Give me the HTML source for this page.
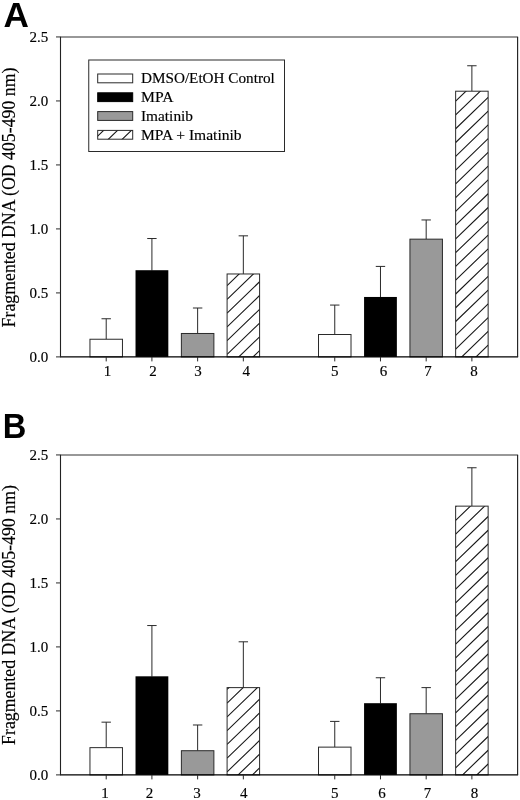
<!DOCTYPE html>
<html lang="en">
<head>
<meta charset="utf-8">
<title>Fragmented DNA chart</title>
<style>
html,body{margin:0;padding:0;background:#fff;}
body{width:520px;height:800px;overflow:hidden;}
svg{display:block;will-change:transform;}
text{font-family:"Liberation Serif","DejaVu Serif",serif;fill:#000;stroke:#000;stroke-width:0.16px;}
.tk{font-size:15px;}
.yl{font-size:17.8px;}
.lg{font-size:15.35px;}
.pl{font-family:"Liberation Sans","DejaVu Sans",sans-serif;font-weight:bold;font-size:35.2px;stroke:none;}
</style>
</head>
<body>
<svg width="520" height="800" viewBox="0 0 520 800">
<rect x="0" y="0" width="520" height="800" fill="#fff"/>
<line x1="106.21" y1="318.76" x2="106.21" y2="339.24" stroke="#2a2a2a" stroke-width="1"/>
<line x1="101.51" y1="318.76" x2="110.91" y2="318.76" stroke="#2a2a2a" stroke-width="1"/>
<rect x="89.96" y="339.24" width="32.5" height="17.66" fill="#fff" stroke="#2a2a2a" stroke-width="1"/>
<line x1="151.92" y1="238.52" x2="151.92" y2="270.51" stroke="#2a2a2a" stroke-width="1"/>
<line x1="147.22" y1="238.52" x2="156.62" y2="238.52" stroke="#2a2a2a" stroke-width="1"/>
<rect x="135.52" y="270.21" width="32.8" height="86.69" fill="#000"/>
<line x1="197.63" y1="308.01" x2="197.63" y2="333.48" stroke="#2a2a2a" stroke-width="1"/>
<line x1="192.93" y1="308.01" x2="202.33" y2="308.01" stroke="#2a2a2a" stroke-width="1"/>
<rect x="181.38" y="333.48" width="32.5" height="23.42" fill="#999999" stroke="#2a2a2a" stroke-width="1"/>
<line x1="243.34" y1="235.83" x2="243.34" y2="273.97" stroke="#2a2a2a" stroke-width="1"/>
<line x1="238.64" y1="235.83" x2="248.04" y2="235.83" stroke="#2a2a2a" stroke-width="1"/>
<rect x="227.09" y="273.97" width="32.5" height="82.93" fill="#fff" stroke="#2a2a2a" stroke-width="1"/>
<clipPath id="cA4"><rect x="227.09" y="273.97" width="32.5" height="82.93"/></clipPath>
<path d="M227.09 244.29L259.59 212.90M227.09 258.06L259.59 226.66M227.09 271.83L259.59 240.44M227.09 285.60L259.59 254.21M227.09 299.37L259.59 267.98M227.09 313.14L259.59 281.75M227.09 326.91L259.59 295.52M227.09 340.68L259.59 309.29M227.09 354.45L259.59 323.06M227.09 368.22L259.59 336.83M227.09 381.99L259.59 350.60" stroke="#1a1a1a" stroke-width="1.12" fill="none" clip-path="url(#cA4)"/>
<line x1="334.76" y1="305.07" x2="334.76" y2="334.50" stroke="#2a2a2a" stroke-width="1"/>
<line x1="330.06" y1="305.07" x2="339.46" y2="305.07" stroke="#2a2a2a" stroke-width="1"/>
<rect x="318.51" y="334.50" width="32.5" height="22.40" fill="#fff" stroke="#2a2a2a" stroke-width="1"/>
<line x1="380.47" y1="266.42" x2="380.47" y2="297.26" stroke="#2a2a2a" stroke-width="1"/>
<line x1="375.77" y1="266.42" x2="385.17" y2="266.42" stroke="#2a2a2a" stroke-width="1"/>
<rect x="364.07" y="296.96" width="32.8" height="59.94" fill="#000"/>
<line x1="426.18" y1="219.96" x2="426.18" y2="239.16" stroke="#2a2a2a" stroke-width="1"/>
<line x1="421.48" y1="219.96" x2="430.88" y2="219.96" stroke="#2a2a2a" stroke-width="1"/>
<rect x="409.93" y="239.16" width="32.5" height="117.74" fill="#999999" stroke="#2a2a2a" stroke-width="1"/>
<line x1="471.89" y1="65.75" x2="471.89" y2="91.21" stroke="#2a2a2a" stroke-width="1"/>
<line x1="467.19" y1="65.75" x2="476.59" y2="65.75" stroke="#2a2a2a" stroke-width="1"/>
<rect x="455.64" y="91.21" width="32.5" height="265.69" fill="#fff" stroke="#2a2a2a" stroke-width="1"/>
<clipPath id="cA9"><rect x="455.64" y="91.21" width="32.5" height="265.69"/></clipPath>
<path d="M455.64 59.89L488.14 28.50M455.64 73.66L488.14 42.27M455.64 87.43L488.14 56.04M455.64 101.20L488.14 69.81M455.64 114.97L488.14 83.58M455.64 128.74L488.14 97.35M455.64 142.51L488.14 111.11M455.64 156.28L488.14 124.89M455.64 170.05L488.14 138.66M455.64 183.82L488.14 152.42M455.64 197.59L488.14 166.19M455.64 211.36L488.14 179.97M455.64 225.13L488.14 193.73M455.64 238.90L488.14 207.50M455.64 252.67L488.14 221.28M455.64 266.44L488.14 235.04M455.64 280.21L488.14 248.81M455.64 293.98L488.14 262.59M455.64 307.75L488.14 276.36M455.64 321.52L488.14 290.12M455.64 335.29L488.14 303.90M455.64 349.06L488.14 317.67M455.64 362.83L488.14 331.44M455.64 376.60L488.14 345.20M455.64 390.37L488.14 358.98" stroke="#1a1a1a" stroke-width="1.12" fill="none" clip-path="url(#cA9)"/>
<line x1="60.0" y1="36.95" x2="518.1" y2="36.95" stroke="#333" stroke-width="1.05"/>
<line x1="60.0" y1="356.9" x2="518.1" y2="356.9" stroke="#000" stroke-width="1.4"/>
<line x1="60.5" y1="36.95" x2="60.5" y2="356.9" stroke="#222" stroke-width="1.1"/>
<line x1="517.6" y1="36.95" x2="517.6" y2="356.9" stroke="#222" stroke-width="1.15"/>
<line x1="56.0" y1="356.90" x2="60.5" y2="356.90" stroke="#2a2a2a" stroke-width="1"/>
<text x="48.3" y="362.10" text-anchor="end" class="tk">0.0</text>
<line x1="56.0" y1="292.91" x2="60.5" y2="292.91" stroke="#2a2a2a" stroke-width="1"/>
<text x="48.3" y="298.11" text-anchor="end" class="tk">0.5</text>
<line x1="56.0" y1="228.92" x2="60.5" y2="228.92" stroke="#2a2a2a" stroke-width="1"/>
<text x="48.3" y="234.12" text-anchor="end" class="tk">1.0</text>
<line x1="56.0" y1="164.93" x2="60.5" y2="164.93" stroke="#2a2a2a" stroke-width="1"/>
<text x="48.3" y="170.13" text-anchor="end" class="tk">1.5</text>
<line x1="56.0" y1="100.94" x2="60.5" y2="100.94" stroke="#2a2a2a" stroke-width="1"/>
<text x="48.3" y="106.14" text-anchor="end" class="tk">2.0</text>
<line x1="56.0" y1="36.95" x2="60.5" y2="36.95" stroke="#2a2a2a" stroke-width="1"/>
<text x="48.3" y="42.15" text-anchor="end" class="tk">2.5</text>
<line x1="106.21" y1="356.9" x2="106.21" y2="361.4" stroke="#2a2a2a" stroke-width="1"/>
<text x="107.50" y="376.20" text-anchor="middle" class="tk">1</text>
<line x1="151.92" y1="356.9" x2="151.92" y2="361.4" stroke="#2a2a2a" stroke-width="1"/>
<text x="152.90" y="376.20" text-anchor="middle" class="tk">2</text>
<line x1="197.63" y1="356.9" x2="197.63" y2="361.4" stroke="#2a2a2a" stroke-width="1"/>
<text x="197.90" y="376.20" text-anchor="middle" class="tk">3</text>
<line x1="243.34" y1="356.9" x2="243.34" y2="361.4" stroke="#2a2a2a" stroke-width="1"/>
<text x="246.25" y="376.20" text-anchor="middle" class="tk">4</text>
<line x1="334.76" y1="356.9" x2="334.76" y2="361.4" stroke="#2a2a2a" stroke-width="1"/>
<text x="334.75" y="376.20" text-anchor="middle" class="tk">5</text>
<line x1="380.47" y1="356.9" x2="380.47" y2="361.4" stroke="#2a2a2a" stroke-width="1"/>
<text x="383.50" y="376.20" text-anchor="middle" class="tk">6</text>
<line x1="426.18" y1="356.9" x2="426.18" y2="361.4" stroke="#2a2a2a" stroke-width="1"/>
<text x="428.10" y="376.20" text-anchor="middle" class="tk">7</text>
<line x1="471.89" y1="356.9" x2="471.89" y2="361.4" stroke="#2a2a2a" stroke-width="1"/>
<text x="474.00" y="376.20" text-anchor="middle" class="tk">8</text>
<text transform="translate(15.2 197.5) rotate(-90)" text-anchor="middle" class="yl">Fragmented DNA (OD 405-490 nm)</text>
<text transform="translate(3.4 26.8) scale(1 1)" class="pl">A</text>
<line x1="106.21" y1="722.17" x2="106.21" y2="747.64" stroke="#2a2a2a" stroke-width="1"/>
<line x1="101.51" y1="722.17" x2="110.91" y2="722.17" stroke="#2a2a2a" stroke-width="1"/>
<rect x="89.96" y="747.64" width="32.5" height="27.26" fill="#fff" stroke="#2a2a2a" stroke-width="1"/>
<line x1="151.92" y1="625.55" x2="151.92" y2="676.61" stroke="#2a2a2a" stroke-width="1"/>
<line x1="147.22" y1="625.55" x2="156.62" y2="625.55" stroke="#2a2a2a" stroke-width="1"/>
<rect x="135.52" y="676.31" width="32.8" height="98.59" fill="#000"/>
<line x1="197.63" y1="724.99" x2="197.63" y2="750.71" stroke="#2a2a2a" stroke-width="1"/>
<line x1="192.93" y1="724.99" x2="202.33" y2="724.99" stroke="#2a2a2a" stroke-width="1"/>
<rect x="181.38" y="750.71" width="32.5" height="24.19" fill="#999999" stroke="#2a2a2a" stroke-width="1"/>
<line x1="243.34" y1="641.80" x2="243.34" y2="687.62" stroke="#2a2a2a" stroke-width="1"/>
<line x1="238.64" y1="641.80" x2="248.04" y2="641.80" stroke="#2a2a2a" stroke-width="1"/>
<rect x="227.09" y="687.62" width="32.5" height="87.28" fill="#fff" stroke="#2a2a2a" stroke-width="1"/>
<clipPath id="cB4"><rect x="227.09" y="687.62" width="32.5" height="87.28"/></clipPath>
<path d="M227.09 661.85L259.59 630.46M227.09 675.60L259.59 644.21M227.09 689.35L259.59 657.96M227.09 703.10L259.59 671.71M227.09 716.85L259.59 685.46M227.09 730.60L259.59 699.21M227.09 744.35L259.59 712.96M227.09 758.10L259.59 726.71M227.09 771.85L259.59 740.46M227.09 785.60L259.59 754.21M227.09 799.35L259.59 767.96" stroke="#1a1a1a" stroke-width="1.12" fill="none" clip-path="url(#cB4)"/>
<line x1="334.76" y1="721.40" x2="334.76" y2="747.13" stroke="#2a2a2a" stroke-width="1"/>
<line x1="330.06" y1="721.40" x2="339.46" y2="721.40" stroke="#2a2a2a" stroke-width="1"/>
<rect x="318.51" y="747.13" width="32.5" height="27.77" fill="#fff" stroke="#2a2a2a" stroke-width="1"/>
<line x1="380.47" y1="677.76" x2="380.47" y2="703.49" stroke="#2a2a2a" stroke-width="1"/>
<line x1="375.77" y1="677.76" x2="385.17" y2="677.76" stroke="#2a2a2a" stroke-width="1"/>
<rect x="364.07" y="703.19" width="32.8" height="71.71" fill="#000"/>
<line x1="426.18" y1="687.62" x2="426.18" y2="713.73" stroke="#2a2a2a" stroke-width="1"/>
<line x1="421.48" y1="687.62" x2="430.88" y2="687.62" stroke="#2a2a2a" stroke-width="1"/>
<rect x="409.93" y="713.73" width="32.5" height="61.17" fill="#999999" stroke="#2a2a2a" stroke-width="1"/>
<line x1="471.89" y1="467.75" x2="471.89" y2="506.14" stroke="#2a2a2a" stroke-width="1"/>
<line x1="467.19" y1="467.75" x2="476.59" y2="467.75" stroke="#2a2a2a" stroke-width="1"/>
<rect x="455.64" y="506.14" width="32.5" height="268.76" fill="#fff" stroke="#2a2a2a" stroke-width="1"/>
<clipPath id="cB9"><rect x="455.64" y="506.14" width="32.5" height="268.76"/></clipPath>
<path d="M455.64 479.15L488.14 447.75M455.64 492.90L488.14 461.50M455.64 506.65L488.14 475.25M455.64 520.40L488.14 489.00M455.64 534.15L488.14 502.75M455.64 547.90L488.14 516.50M455.64 561.65L488.14 530.25M455.64 575.40L488.14 544.00M455.64 589.15L488.14 557.75M455.64 602.90L488.14 571.50M455.64 616.65L488.14 585.25M455.64 630.40L488.14 599.00M455.64 644.15L488.14 612.75M455.64 657.90L488.14 626.50M455.64 671.65L488.14 640.25M455.64 685.40L488.14 654.00M455.64 699.15L488.14 667.75M455.64 712.90L488.14 681.50M455.64 726.65L488.14 695.25M455.64 740.40L488.14 709.00M455.64 754.15L488.14 722.75M455.64 767.90L488.14 736.50M455.64 781.65L488.14 750.25M455.64 795.40L488.14 764.00M455.64 809.15L488.14 777.75" stroke="#1a1a1a" stroke-width="1.12" fill="none" clip-path="url(#cB9)"/>
<line x1="60.0" y1="454.95" x2="518.1" y2="454.95" stroke="#333" stroke-width="1.05"/>
<line x1="60.0" y1="774.9" x2="518.1" y2="774.9" stroke="#000" stroke-width="1.4"/>
<line x1="60.5" y1="454.95" x2="60.5" y2="774.9" stroke="#222" stroke-width="1.1"/>
<line x1="517.6" y1="454.95" x2="517.6" y2="774.9" stroke="#222" stroke-width="1.15"/>
<line x1="56.0" y1="774.90" x2="60.5" y2="774.90" stroke="#2a2a2a" stroke-width="1"/>
<text x="48.3" y="780.10" text-anchor="end" class="tk">0.0</text>
<line x1="56.0" y1="710.91" x2="60.5" y2="710.91" stroke="#2a2a2a" stroke-width="1"/>
<text x="48.3" y="716.11" text-anchor="end" class="tk">0.5</text>
<line x1="56.0" y1="646.92" x2="60.5" y2="646.92" stroke="#2a2a2a" stroke-width="1"/>
<text x="48.3" y="652.12" text-anchor="end" class="tk">1.0</text>
<line x1="56.0" y1="582.93" x2="60.5" y2="582.93" stroke="#2a2a2a" stroke-width="1"/>
<text x="48.3" y="588.13" text-anchor="end" class="tk">1.5</text>
<line x1="56.0" y1="518.94" x2="60.5" y2="518.94" stroke="#2a2a2a" stroke-width="1"/>
<text x="48.3" y="524.14" text-anchor="end" class="tk">2.0</text>
<line x1="56.0" y1="454.95" x2="60.5" y2="454.95" stroke="#2a2a2a" stroke-width="1"/>
<text x="48.3" y="460.15" text-anchor="end" class="tk">2.5</text>
<line x1="106.21" y1="774.9" x2="106.21" y2="779.4" stroke="#2a2a2a" stroke-width="1"/>
<text x="105.00" y="797.80" text-anchor="middle" class="tk">1</text>
<line x1="151.92" y1="774.9" x2="151.92" y2="779.4" stroke="#2a2a2a" stroke-width="1"/>
<text x="149.40" y="797.80" text-anchor="middle" class="tk">2</text>
<line x1="197.63" y1="774.9" x2="197.63" y2="779.4" stroke="#2a2a2a" stroke-width="1"/>
<text x="197.10" y="797.80" text-anchor="middle" class="tk">3</text>
<line x1="243.34" y1="774.9" x2="243.34" y2="779.4" stroke="#2a2a2a" stroke-width="1"/>
<text x="243.80" y="797.80" text-anchor="middle" class="tk">4</text>
<line x1="334.76" y1="774.9" x2="334.76" y2="779.4" stroke="#2a2a2a" stroke-width="1"/>
<text x="334.75" y="797.80" text-anchor="middle" class="tk">5</text>
<line x1="380.47" y1="774.9" x2="380.47" y2="779.4" stroke="#2a2a2a" stroke-width="1"/>
<text x="381.90" y="797.80" text-anchor="middle" class="tk">6</text>
<line x1="426.18" y1="774.9" x2="426.18" y2="779.4" stroke="#2a2a2a" stroke-width="1"/>
<text x="427.40" y="797.80" text-anchor="middle" class="tk">7</text>
<line x1="471.89" y1="774.9" x2="471.89" y2="779.4" stroke="#2a2a2a" stroke-width="1"/>
<text x="474.40" y="797.80" text-anchor="middle" class="tk">8</text>
<text transform="translate(15.2 615.0) rotate(-90)" text-anchor="middle" class="yl">Fragmented DNA (OD 405-490 nm)</text>
<text transform="translate(2.8 438.0) scale(0.927 1)" class="pl">B</text>
<rect x="88.75" y="60" width="195.75" height="91.5" fill="#fff" stroke="#2a2a2a" stroke-width="1"/>
<rect x="97.7" y="74.00" width="35.0" height="8.8" fill="#fff" stroke="#2a2a2a" stroke-width="1"/>
<text transform="translate(141.0 82.90) scale(0.99 1)" class="lg">DMSO/EtOH Control</text>
<rect x="97.7" y="92.80" width="35.0" height="8.8" fill="#000" stroke="#000" stroke-width="1"/>
<text transform="translate(141.0 101.75) scale(1.02 1)" class="lg">MPA</text>
<rect x="97.7" y="111.60" width="35.0" height="8.8" fill="#999999" stroke="#2a2a2a" stroke-width="1"/>
<text transform="translate(141.0 120.60) scale(1.0 1)" class="lg">Imatinib</text>
<rect x="97.7" y="130.40" width="35.0" height="8.8" fill="#fff" stroke="#2a2a2a" stroke-width="1"/>
<clipPath id="lgc"><rect x="97.7" y="130.40" width="35.2" height="8.8"/></clipPath>
<path d="M64.63 141.20L77.88 128.40M78.53 141.20L91.78 128.40M92.43 141.20L105.68 128.40M106.33 141.20L119.58 128.40M120.23 141.20L133.48 128.40M134.13 141.20L147.38 128.40M148.03 141.20L161.28 128.40" stroke="#1a1a1a" stroke-width="1.12" fill="none" clip-path="url(#lgc)"/>
<text transform="translate(141.0 139.50) scale(1.013 1)" class="lg">MPA + Imatinib</text>
</svg>
</body>
</html>
